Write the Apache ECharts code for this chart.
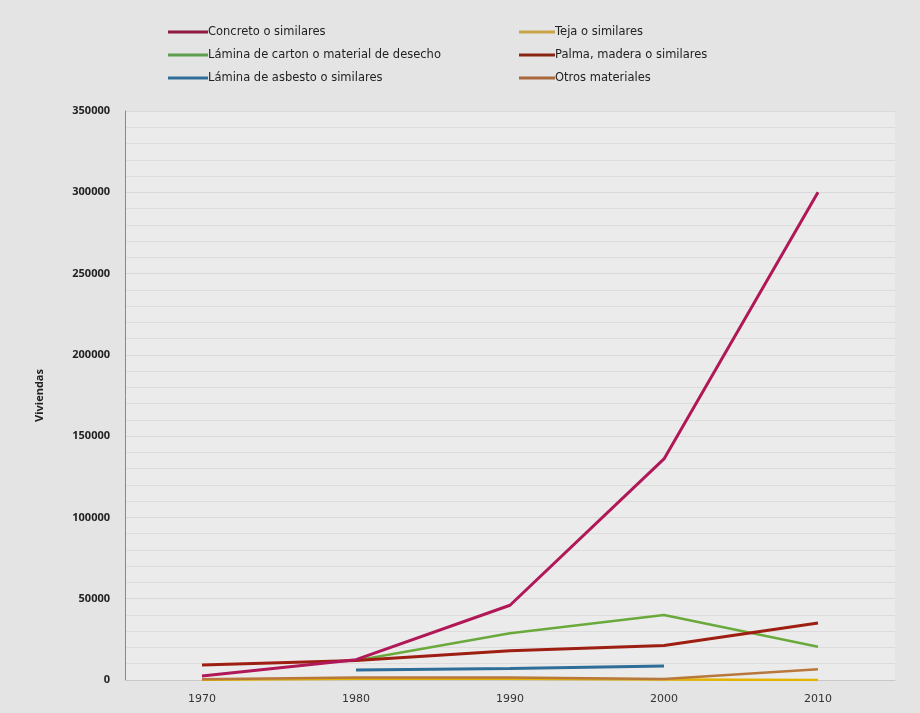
<!DOCTYPE html>
<html><head><meta charset="utf-8">
<script src="https://cdn.jsdelivr.net/npm/echarts@6/dist/echarts.min.js"></script>
<style>html,body{margin:0;padding:0;background:#e5e5e5;}#c{width:920px;height:713px;}</style>
</head><body><div id="c"></div>
<script>
const years = ['1970','1980','1990','2000','2010'];
const concreto = [2500, 12500, 46000, 136000, 300000];
const teja = [200, 800, 800, 300, 0];
const carton = [null, 12000, 28800, 40000, 20500];
const palma = [9300, 12000, 18000, 21200, 35000];
const asbesto = [null, 6200, 7000, 8600, null];
const otros = [500, 1500, 1500, 600, 6600];
const yTicks = [0, 50000, 100000, 150000, 200000, 250000, 300000, 350000];

const names = ['Concreto o similares','Teja o similares','Lámina de carton o material de desecho','Palma, madera o similares','Lámina de asbesto o similares','Otros materiales'];
const colors = ['#b01858','#e2b400','#6aaa3c','#9e1e12','#2e6e98','#b8783c'];
const legendColors = ['#8e1a40','#c8a448','#5e9e4e','#8a2614','#2e6e98','#a8683c'];
const datas = [concreto, teja, carton, palma, asbesto, otros];
const widths = [3, 2.5, 2.5, 3, 3, 2.5];

const chart = echarts.init(document.getElementById('c'));
const series = [];
const order = [1,5,4,2,3,0];
order.forEach(i => {
  series.push({
    name: names[i], type: 'line', data: datas[i], symbol: 'none',
    lineStyle: {color: colors[i], width: widths[i]},
    itemStyle: {color: legendColors[i]},
    connectNulls: false
  });
});
const legendText = {fontFamily: 'DejaVu Sans', fontSize: 11.5, color: '#222', padding: [0, 0, 0, -5]};
chart.setOption({
  backgroundColor: '#e4e4e4',
  animation: false,
  legend: [
    {data: [names[0], names[2], names[4]], orient: 'vertical', left: 163, top: 21, itemGap: 11,
     icon: 'rect', itemWidth: 40, itemHeight: 3, textStyle: legendText, selectedMode: false},
    {data: [names[1], names[3], names[5]], orient: 'vertical', left: 514, top: 21, itemGap: 11,
     icon: 'rect', itemWidth: 36, itemHeight: 3, textStyle: legendText, selectedMode: false}
  ],
  grid: {left: 125, right: 25, top: 111, bottom: 33, show: true, backgroundColor: '#ebebeb', borderWidth: 0},
  xAxis: {
    type: 'category', data: years, boundaryGap: true,
    axisLine: {lineStyle: {color: '#c8c8c8', width: 1}},
    axisTick: {show: false},
    axisLabel: {fontFamily: 'DejaVu Sans', fontSize: 11, color: '#333', margin: 14}
  },
  yAxis: {
    type: 'value', min: 0, max: 350000, interval: 50000,
    name: 'Viviendas', nameLocation: 'middle', nameGap: 80,
    nameTextStyle: {fontFamily: 'Open Sans', fontSize: 11, fontWeight: 'bold', color: '#222'},
    axisLine: {show: true, lineStyle: {color: '#8a8a8a', width: 1}},
    axisTick: {show: false},
    axisLabel: {fontFamily: 'Open Sans', fontSize: 11, fontWeight: 'bold', color: '#222', margin: 15,
      formatter: v => yTicks.includes(v) ? String(v) : ''},
    splitLine: {show: true, lineStyle: {color: '#d9d9d9', width: 1}},
    minorTick: {show: false, splitNumber: 5},
    minorSplitLine: {show: true, lineStyle: {color: '#dcdcdc', width: 1}}
  },
  series: series
});
</script></body></html>
